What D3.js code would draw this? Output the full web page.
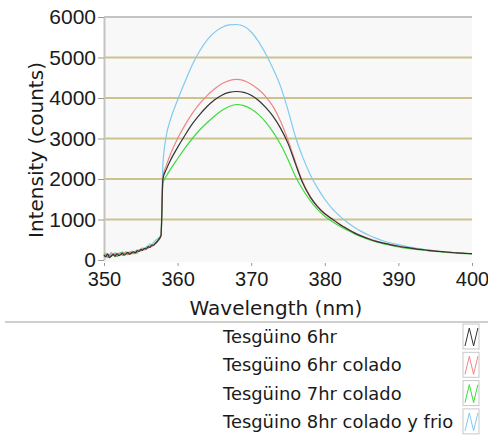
<!DOCTYPE html>
<html>
<head>
<meta charset="utf-8">
<script src="https://cdn.jsdelivr.net/npm/d3@7"></script>
<style>
  body { margin: 0; background: #fff; }
  svg { display: block; }
</style>
</head>
<body>
<svg id="canvas" width="488" height="437"></svg>
<script>
let waveNm = [
  350, 350.25, 350.5, 350.75, 351, 351.25, 351.5, 351.75,
  352, 352.25, 352.5, 352.75, 353, 353.25, 353.5, 353.75,
  354, 354.25, 354.5, 354.75, 355, 355.25, 355.5, 355.75,
  356, 356.25, 356.5, 356.75, 357, 357.25, 357.5, 357.75,
  358, 358.5,
  359, 360, 361, 362, 363, 364, 365, 366, 367, 368,
  369, 370, 371, 372, 373, 374, 375, 376, 377, 378, 379, 380,
  381, 382, 383, 384, 385, 386, 387, 388, 389, 390,
  391, 392, 393, 394, 395, 396, 397, 398, 399, 400
];

let tes6hr = [
  120, 80, 150, 60, 100, 140, 90, 160, 110, 130, 170, 120, 150, 190, 140, 180,
  200, 170, 230, 210, 260, 240, 290, 270, 330, 310, 370, 360, 420, 460, 520, 600,
  2000, 2250,
  2450, 2780, 3080, 3360, 3590, 3790, 3950, 4070, 4140, 4160,
  4140, 4070, 3940, 3760, 3540, 3250, 2880, 2380, 1900, 1560, 1320, 1140,
  1010, 880, 770, 670, 590, 520, 460, 415, 375, 340,
  310, 285, 260, 240, 220, 205, 190, 175, 165, 155
];

let tes6hrColado = [
  90, 140, 70, 130, 180, 110, 150, 100, 170, 140, 120, 190, 160, 130, 200, 170,
  150, 220, 190, 250, 220, 280, 250, 300, 290, 350, 330, 390, 400, 450, 500, 620,
  2050, 2350,
  2600, 3000, 3330, 3620, 3860, 4060, 4220, 4350, 4430, 4460,
  4430, 4340, 4210, 4030, 3780, 3420, 2960, 2430, 1930, 1580, 1330, 1150,
  1020, 890, 780, 680, 600, 530, 470, 420, 380, 345,
  315, 290, 265, 245, 225, 208, 192, 178, 167, 157
];

let tes7hrColado = [
  150, 100, 60, 120, 90, 160, 130, 80, 140, 180, 110, 150, 200, 130, 170, 150,
  210, 190, 170, 240, 230, 270, 260, 310, 300, 340, 360, 380, 430, 470, 540, 610,
  1900, 2080,
  2230, 2500, 2760, 3000, 3210, 3390, 3550, 3690, 3790, 3840,
  3810, 3730, 3590, 3400, 3150, 2850, 2480, 2070, 1740, 1470, 1250, 1080,
  950, 840, 740, 650, 570, 500, 445, 400, 360, 325,
  295, 270, 248, 228, 210, 195, 180, 168, 157, 148
];

let tes8hrFrio = [
  110, 170, 130, 90, 150, 120, 180, 140, 110, 160, 200, 140, 170, 150, 190, 220,
  180, 210, 250, 230, 270, 300, 280, 330, 350, 400, 380, 440, 480, 520, 560, 640,
  2350, 3100,
  3450, 3950, 4400, 4820, 5160, 5430, 5620, 5740, 5805, 5815,
  5770, 5630, 5390, 5080, 4710, 4280, 3700, 3050, 2540, 2120, 1780, 1500,
  1270, 1090, 940, 810, 700, 610, 535, 470, 420, 380,
  340, 305, 275, 250, 228, 208, 190, 175, 162, 150
];

let seriesNames = [
  "Tesgüino 6hr",
  "Tesgüino 6hr colado",
  "Tesgüino 7hr colado",
  "Tesgüino 8hr colado y frio"
];
let seriesColors = ["#333333", "#f08585", "#3ddc3d", "#7fcbef"];
let seriesValues = [tes6hr, tes6hrColado, tes7hrColado, tes8hrFrio];

let xTicks = [350, 360, 370, 380, 390, 400];
let yTicks = [0, 1000, 2000, 3000, 4000, 5000, 6000];

let canvas = d3.select("#canvas");

let plotLeft = 104, plotRight = 472, plotTop = 17, plotBottom = 260;

let x = d3.scaleLinear().domain([350, 400]).range([plotLeft, plotRight]);
let y = d3.scaleLinear().domain([0, 6000]).range([plotBottom, plotTop]);

// plot background
canvas.append("rect")
  .attr("x", plotLeft)
  .attr("y", plotTop)
  .attr("width", plotRight - plotLeft)
  .attr("height", plotBottom - plotTop + 2)
  .attr("fill", "#f8f8f8");

// grid lines
canvas.append("g")
  .selectAll("line")
  .data(yTicks.filter(d => d > 0 && d < 6000))
  .enter()
  .append("line")
  .attr("x1", plotLeft)
  .attr("x2", plotRight)
  .attr("y1", d => y(d))
  .attr("y2", d => y(d))
  .attr("stroke", "#cbc28e")
  .attr("stroke-width", 2);

// top border
canvas.append("line")
  .attr("x1", plotLeft)
  .attr("x2", plotRight)
  .attr("y1", y(6000))
  .attr("y2", y(6000))
  .attr("stroke", "#c4c4c4")
  .attr("stroke-width", 2);

// y axis
let yAxis = canvas.append("g")
  .attr("transform", "translate(" + plotLeft + ",0)")
  .call(d3.axisLeft(y).tickValues(yTicks).tickFormat(d3.format("d"))
    .tickSize(6).tickPadding(2).tickSizeOuter(0));
yAxis.select(".domain").attr("stroke", "#c4c4c4").attr("stroke-width", 2);
yAxis.selectAll(".tick line").attr("stroke", "#999");
yAxis.selectAll(".tick text")
  .attr("font-family", "Liberation Sans, Arial, sans-serif")
  .attr("font-size", 21)
  .attr("fill", "#1a1a1a");

// x axis
let xAxis = canvas.append("g")
  .attr("transform", "translate(0," + (plotBottom + 3) + ")")
  .call(d3.axisBottom(x).tickValues(xTicks).tickFormat(d3.format("d"))
    .tickSize(3).tickPadding(6).tickSizeOuter(0));
xAxis.select(".domain").remove();
xAxis.selectAll(".tick line").attr("stroke", "#999");
xAxis.selectAll(".tick text")
  .attr("font-family", "Liberation Sans, Arial, sans-serif")
  .attr("font-size", 20)
  .attr("fill", "#1a1a1a");

// spectra
let line = d3.line()
  .x((d, i) => x(waveNm[i]))
  .y(d => y(d))
  .curve(d3.curveMonotoneX);

let drawOrder = [3, 2, 1, 0];
canvas.append("g")
  .selectAll("path")
  .data(drawOrder)
  .enter()
  .append("path")
  .attr("d", k => line(seriesValues[k]))
  .attr("fill", "none")
  .attr("stroke", k => seriesColors[k])
  .attr("stroke-width", 1.2);

// axis titles
canvas.append("text")
  .attr("x", 276)
  .attr("y", 315)
  .attr("text-anchor", "middle")
  .attr("font-family", "DejaVu Sans, Verdana, sans-serif")
  .attr("font-size", 20)
  .attr("fill", "#1a1a1a")
  .text("Wavelength (nm)");

canvas.append("text")
  .attr("transform", "translate(43,150) rotate(-90)")
  .attr("text-anchor", "middle")
  .attr("font-family", "DejaVu Sans, Verdana, sans-serif")
  .attr("font-size", 20)
  .attr("fill", "#1a1a1a")
  .text("Intensity (counts)");

// legend separator
canvas.append("line")
  .attr("x1", 5)
  .attr("x2", 488)
  .attr("y1", 322)
  .attr("y2", 322)
  .attr("stroke", "#cfcfcf")
  .attr("stroke-width", 2);

// legend
let legend = canvas.append("g")
  .selectAll("g")
  .data(seriesNames)
  .enter()
  .append("g")
  .attr("transform", (d, i) => "translate(0," + (343 + i * 28.3) + ")");

legend.append("text")
  .attr("x", 223)
  .attr("y", 0)
  .attr("font-family", "DejaVu Sans, Verdana, sans-serif")
  .attr("font-size", 17.9)
  .attr("fill", "#1a1a1a")
  .text(d => d);

legend.append("rect")
  .attr("x", 463)
  .attr("y", -19)
  .attr("width", 16)
  .attr("height", 25)
  .attr("fill", "#fff")
  .attr("stroke", "#c8c8c8")
  .attr("stroke-width", 1);

legend.append("path")
  .attr("d", "M465,3 L469.3,-15 L473.6,3 L477.9,-15")
  .attr("fill", "none")
  .attr("stroke", (d, i) => seriesColors[i])
  .attr("stroke-width", 1);
</script>
</body>
</html>
